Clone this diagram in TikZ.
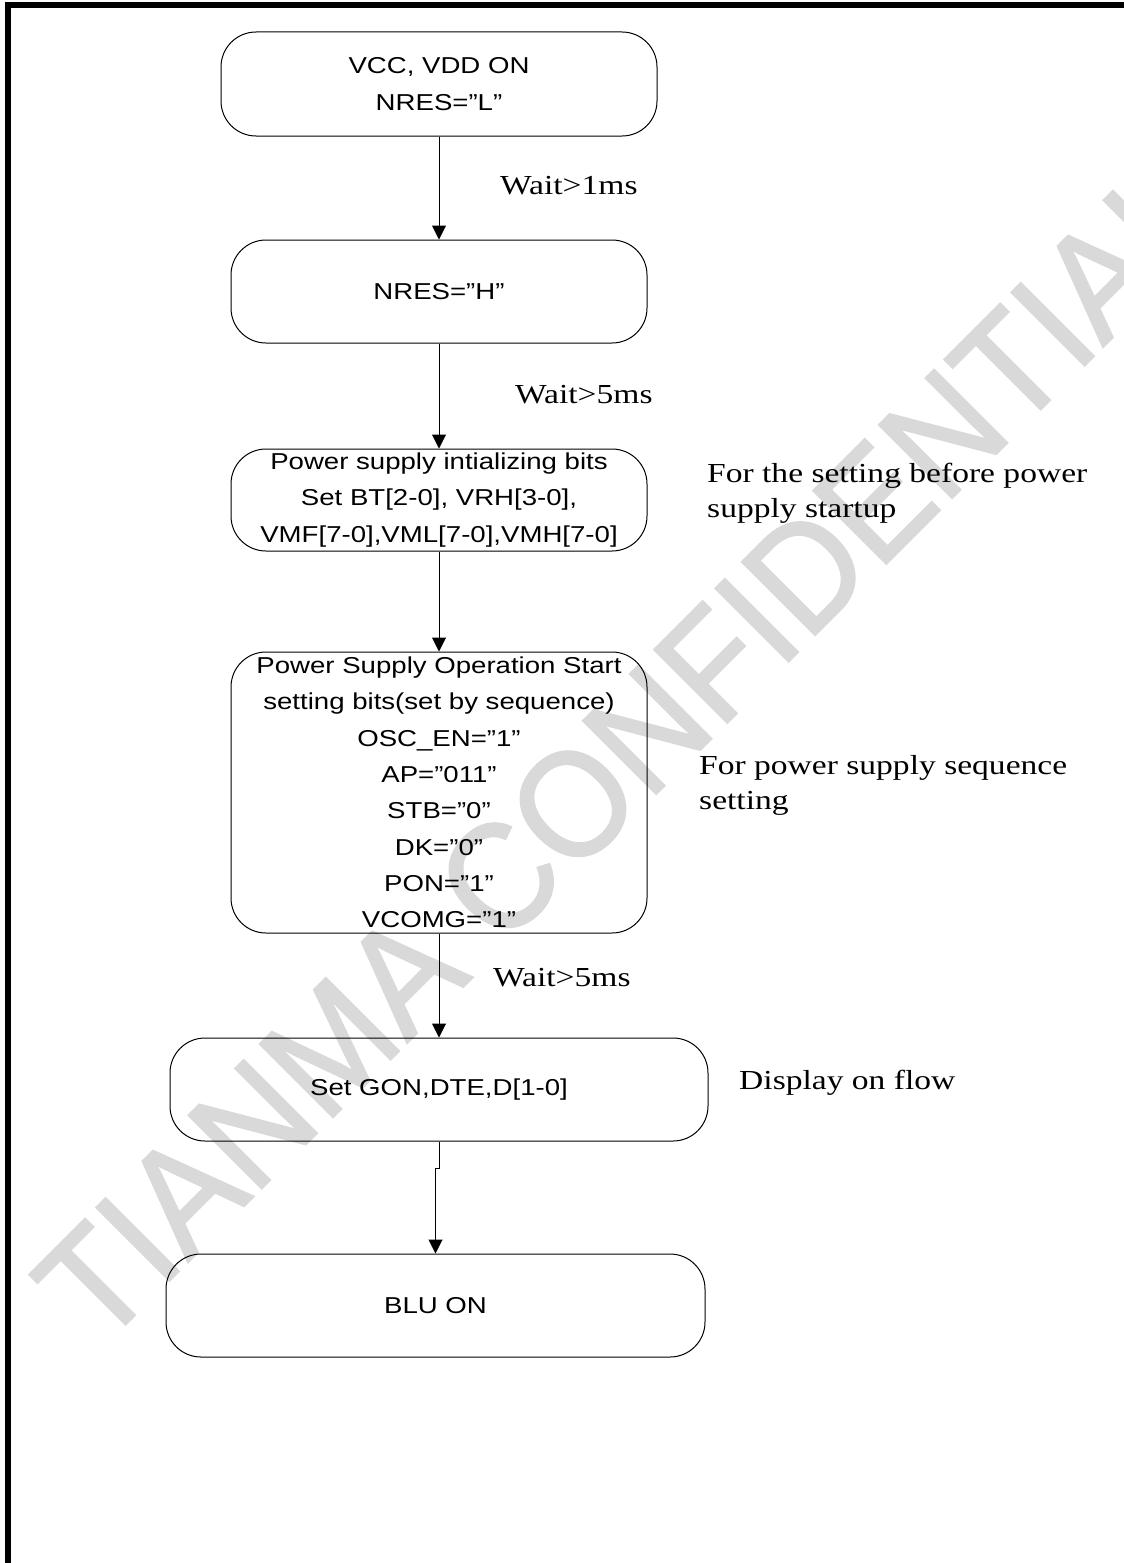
\documentclass[tikz,border=0pt]{standalone}
\usepackage{fontspec}
\usetikzlibrary{arrows.meta}

\newfontfamily\boxfont[FakeStretch=1.2]{Liberation Sans}
\newfontfamily\notefont[FakeStretch=1.22]{Liberation Serif}
\newfontfamily\markfont[FakeStretch=0.93,FakeBold=1.5]{Liberation Sans}

\tikzset{
  flowbox/.style={draw=black, line width=1pt, rounded corners=35pt, inner sep=0pt,
    align=center, font=\boxfont\fontsize{23}{36.3}\selectfont},
  flowarrow/.style={-{Triangle[length=14pt,width=14pt]}, line width=1pt},
  note/.style={anchor=west, align=left, inner sep=0pt,
    font=\notefont\fontsize{27.5}{35}\selectfont},
}

\begin{document}
\begin{tikzpicture}[x=1pt,y=-1pt]
      \useasboundingbox (0,0) rectangle (1124,1563);

      % Watermark
      \node[rotate=45, anchor=base west, inner sep=0pt, text=black!15,
        font=\markfont\fontsize{150}{150}\selectfont] (watermark) at (100,1350) {TIANMA CONFIDENTIAL};

      % Frame
      \draw[line width=6pt] (7.5,1563) -- (7.5,5) -- (1124,5);

      % Flow boxes
      \node[flowbox, minimum width=436pt, minimum height=104pt] (vcc) at (439,84) {VCC, VDD ON\\NRES=”L”};
      \node[flowbox, minimum width=416pt, minimum height=103pt] (nresh) at (439,291.5) {NRES=”H”};
      \node[flowbox, minimum width=416pt, minimum height=102pt] (init) at (439,500)
        {Power supply intializing bits\\Set BT[2-0], VRH[3-0],\\VMF[7-0],VML[7-0],VMH[7-0]};
      \node[flowbox, minimum width=416pt, minimum height=281pt] (opstart) at (439,792.5)
        {Power Supply Operation Start\\setting bits(set by sequence)\\OSC\_EN=”1”\\AP=”011”\\STB=”0”\\DK=”0”\\PON=”1”\\VCOMG=”1”};
      \node[flowbox, minimum width=538pt, minimum height=103pt] (gon) at (439,1089.5) {Set GON,DTE,D[1-0]};
      \node[flowbox, minimum width=539pt, minimum height=103pt] (blu) at (435.5,1305.5) {BLU ON};

      % Connectors
      \draw[flowarrow] (vcc) -- (nresh);
      \draw[flowarrow] (nresh) -- (init);
      \draw[flowarrow] (init) -- (opstart);
      \draw[flowarrow] (opstart) -- (gon);
      \draw[flowarrow] (gon.south) -- ++(0,27) -| (blu.north);

      % Wait labels
      \node[note] (wait1) at (500,186) {Wait>1ms};
      \node[note] (wait2) at (515,395) {Wait>5ms};
      \node[note] (wait3) at (493,978) {Wait>5ms};

      % Side notes
      \node[note] (noteinit) at (707,493) {For the setting before power\\supply startup};
      \node[note] (noteseq) at (699,785) {For power supply sequence\\setting};
      \node[note] (noteon) at (739,1083) {Display on flow};

\end{tikzpicture}
\end{document}
